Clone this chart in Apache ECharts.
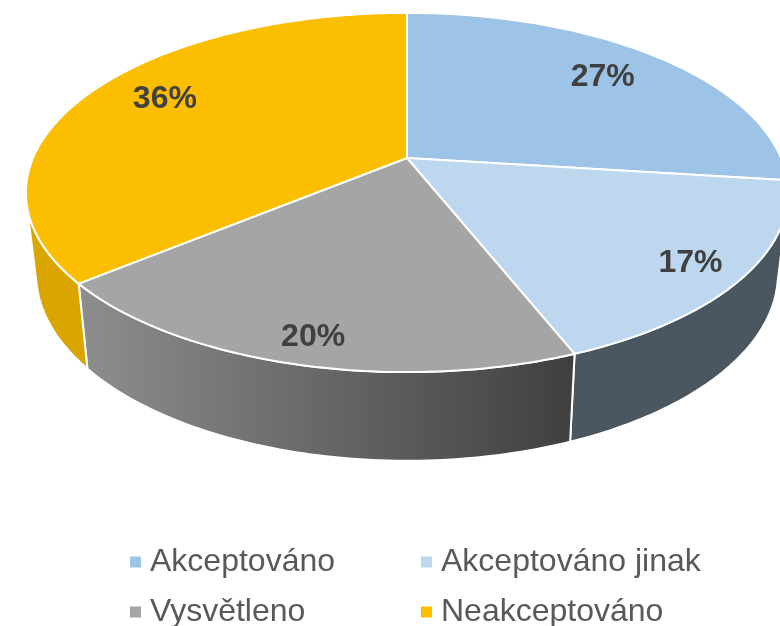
<!DOCTYPE html>
<html>
<head>
<meta charset="utf-8">
<style>html,body{margin:0;padding:0;background:#fff}#main{width:780px;height:626px}</style>
<script src="https://cdn.jsdelivr.net/npm/echarts@6/dist/echarts.min.js"></script>
</head>
<body>
<div id="main"></div>
<script>
var categories = ['Akceptováno', 'Akceptováno jinak', 'Vysvětleno', 'Neakceptováno'];
var shares = [27, 17, 20, 36];
var topColors = ['#9DC3E6', '#BDD7EE', '#A5A5A5', '#FCBE00'];

var wallColors = [
    '#5F7E9C',
    '#4A5761',
    new echarts.graphic.LinearGradient(0, 0, 1, 0, [
        { offset: 0, color: '#8E8E8E' },
        { offset: 1, color: '#3F3F3F' }
    ]),
    '#DBA500'
];

// where the text sits on the disc: radius (0-1), then a small pixel nudge
var labelRadius = [0.8, 0.87, 0.88, 0.79];
var labelNudge = [[-8, 2], [-3, 2], [4, 3], [9, -4]];

// legend cells, one per category
var legendLeft = [130, 421, 130, 421];
var legendTop = [546, 546, 596, 596];

var total = shares.reduce(function (a, b) { return a + b; }, 0);
var TILT = 0.192;
// the wall can only be seen between these two angles
var WALL_FROM = 104, WALL_TO = 256;

// disc coords to pixels, the nearer the viewer the bigger
function topPoint(deg, r) {
    var a = deg * Math.PI / 180;
    var u = r * Math.sin(a), v = -r * Math.cos(a);
    var d = 1 - TILT * v;
    return [407 + 374 * u / d, 158 + 173 * v / d];
}
function bottomPoint(deg) {
    var a = deg * Math.PI / 180;
    var u = Math.sin(a), v = -Math.cos(a);
    var d = 1 - TILT * v;
    return [407 + 364 * u / d, 238 + 180 * v / d];
}
function arc(fn, from, to) {
    var pts = [];
    var n = Math.ceil(Math.abs(to - from));
    for (var i = 0; i <= n; i++) {
        pts.push(fn(from + (to - from) * i / n, 1));
    }
    return pts;
}

function renderSlice(params, api) {
    var idx = params.seriesIndex;
    var before = shares.slice(0, idx).reduce(function (a, b) { return a + b; }, 0);
    var start = before / total * 360;
    var end = (before + api.value(0)) / total * 360;
    var pos = topPoint((start + end) / 2, labelRadius[idx]);
    var children = [{
        type: 'polygon',
        z2: 5,
        shape: { points: [topPoint(0, 0)].concat(arc(topPoint, start, end)) },
        style: { fill: topColors[idx], stroke: '#fff', lineWidth: 2, lineJoin: 'round' }
    }, {
        type: 'text',
        z2: 10,
        x: pos[0] + labelNudge[idx][0],
        y: pos[1] + labelNudge[idx][1],
        style: {
            text: api.value(0) + '%',
            fill: '#404040',
            font: 'bold 32px "Liberation Sans", Arial, sans-serif',
            align: 'center',
            verticalAlign: 'middle'
        }
    }];
    var wallStart = Math.max(start, WALL_FROM);
    var wallEnd = Math.min(end, WALL_TO);
    if (wallEnd > wallStart) {
        children.push({
            type: 'polygon',
            z2: 1,
            shape: { points: arc(topPoint, wallStart, wallEnd).concat(arc(bottomPoint, wallEnd, wallStart)) },
            style: { fill: wallColors[idx], stroke: '#fff', lineWidth: 2, lineJoin: 'round' }
        });
    }
    return { type: 'group', children: children };
}

var myChart = echarts.init(document.getElementById('main'));
var option = {
    animation: false,
    backgroundColor: '#fff',
    legend: categories.map(function (name, i) {
        return {
            left: legendLeft[i],
            top: legendTop[i],
            data: [name],
            itemWidth: 11,
            itemHeight: 11,
            padding: 0,
            icon: 'rect',
            selectedMode: false,
            textStyle: {
                color: '#595959',
                fontSize: 32,
                fontFamily: '"Liberation Sans", Arial, sans-serif',
                padding: [0, 0, 0, 4]
            }
        };
    }),
    series: categories.map(function (name, i) {
        return {
            name: name,
            type: 'custom',
            coordinateSystem: 'none',
            silent: true,
            itemStyle: { color: topColors[i] },
            renderItem: renderSlice,
            data: [[shares[i]]]
        };
    })
};
myChart.setOption(option);
</script>
</body>
</html>
